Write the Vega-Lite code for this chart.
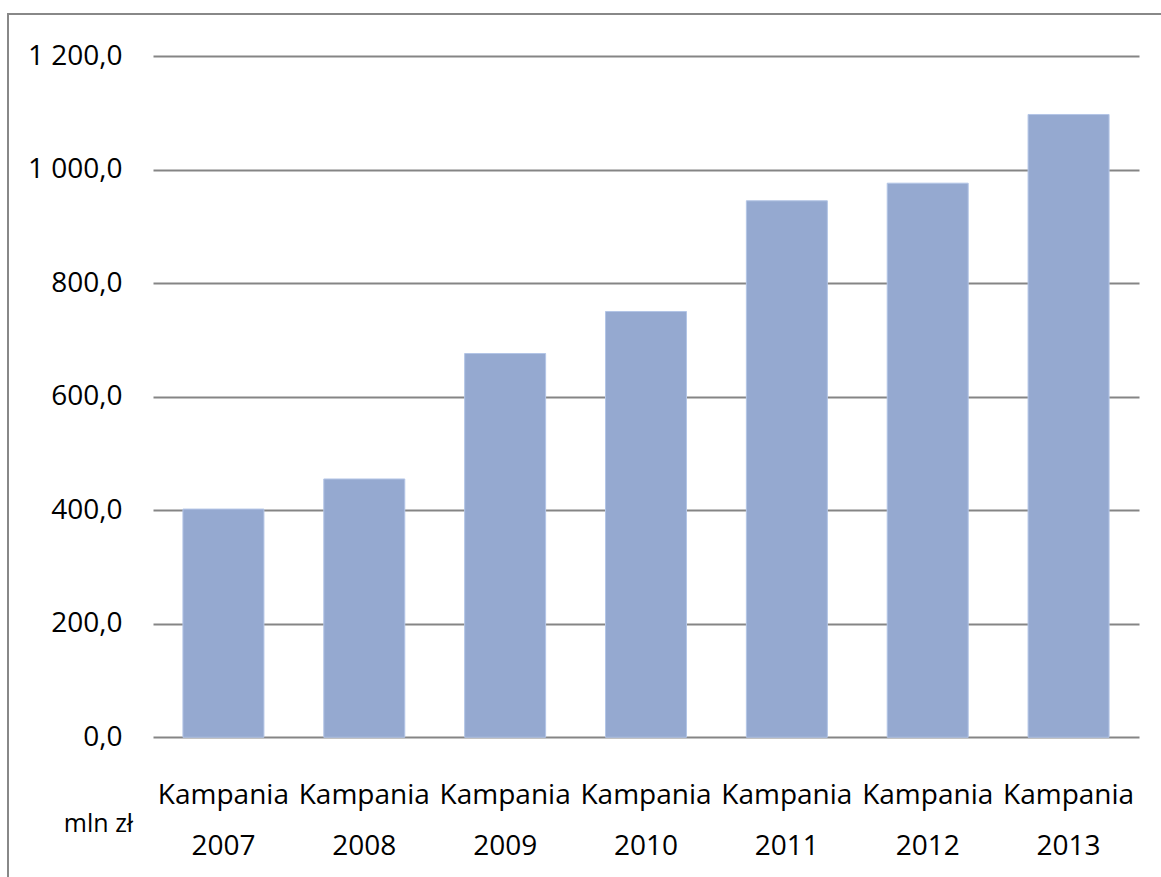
{
  "$schema": "https://vega.github.io/schema/vega-lite/v6.json",
  "autosize": "none",
  "width": 1158,
  "height": 868,
  "padding": {"left": 8, "top": 14, "right": 0, "bottom": 0},
  "background": "white",
  "config": {
    "view": {"stroke": "#888888", "strokeWidth": 2},
    "font": "Open Sans"
  },
  "data": {
    "values": [
      {"kampania": "Kampania 2007", "wartosc": 402},
      {"kampania": "Kampania 2008", "wartosc": 455},
      {"kampania": "Kampania 2009", "wartosc": 676},
      {"kampania": "Kampania 2010", "wartosc": 750},
      {"kampania": "Kampania 2011", "wartosc": 945},
      {"kampania": "Kampania 2012", "wartosc": 976},
      {"kampania": "Kampania 2013", "wartosc": 1097}
    ]
  },
  "mark": {"type": "bar", "color": "#95A9D0", "stroke": "#B3C5E6", "strokeWidth": 1},
  "encoding": {
    "x": {
      "field": "kampania",
      "type": "nominal",
      "sort": null,
      "scale": {"range": [145, 1131], "paddingInner": 0.425, "paddingOuter": 0.2125},
      "axis": {
        "title": null,
        "orient": "bottom",
        "offset": -145,
        "domain": false,
        "ticks": false,
        "tickSize": 0,
        "labelPadding": 66,
        "labelAngle": 0,
        "labelBaseline": "alphabetic",
        "labelExpr": "split(datum.label, ' ')",
        "labelLineHeight": 51,
        "labelFont": "Open Sans",
        "labelFontSize": 28,
        "labelColor": "#000000",
        "labelLimit": 0,
        "labelOverlap": false,
        "grid": false
      }
    },
    "y": {
      "field": "wartosc",
      "type": "quantitative",
      "scale": {"domain": [0, 1200], "range": [723.3, 42], "nice": false, "zero": true},
      "axis": {
        "values": [0, 200, 400, 600, 800, 1000, 1200],
        "orient": "left",
        "offset": -114,
        "domain": false,
        "ticks": false,
        "tickSize": 0,
        "labelPadding": 0,
        "labelExpr": "replace(replace(format(datum.value, ',.1f'), ',', ' '), '.', ',')",
        "labelFont": "Open Sans",
        "labelFontSize": 28,
        "labelColor": "#000000",
        "grid": true,
        "gridColor": "#858585",
        "gridWidth": 2,
        "title": "mln zł",
        "titleAngle": 0,
        "titleAlign": "center",
        "titleBaseline": "middle",
        "titleX": -24,
        "titleY": 809,
        "titleFont": "Open Sans",
        "titleFontSize": 25,
        "titleFontWeight": "normal",
        "titleColor": "#000000"
      }
    }
  }
}
